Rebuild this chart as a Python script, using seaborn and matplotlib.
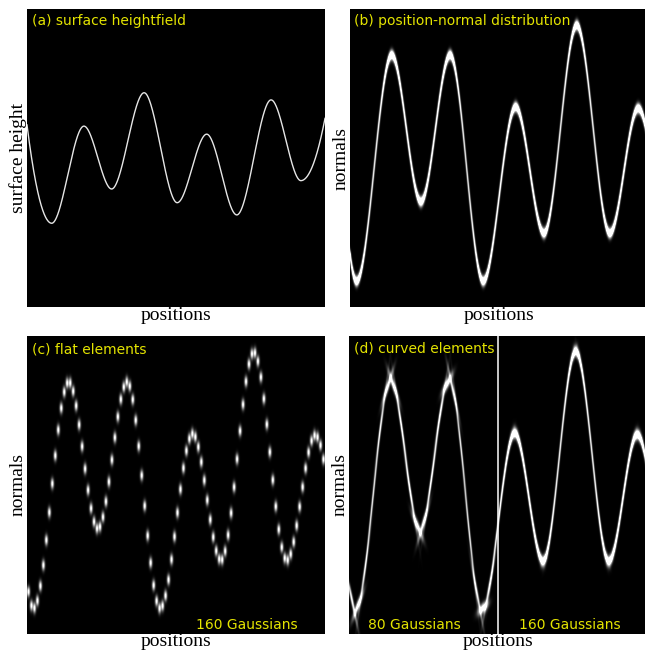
import numpy as np
import matplotlib
matplotlib.use("Agg")
import matplotlib.pyplot as plt
import seaborn as sns

# ---------------- data (fractions of each panel) ----------------
# extremes of the surface heightfield, panel (a)
height_pos = [0.0, 0.083, 0.191, 0.284, 0.393, 0.504, 0.603, 0.704, 0.819, 0.919, 1.0]
height_val = [0.611, 0.281, 0.607, 0.396, 0.719, 0.350, 0.580, 0.309, 0.695, 0.424, 0.633]

# extremes of the normal curve, panels (b)-(d)
normal_pos = [0.0, 0.022, 0.140, 0.238, 0.336, 0.447, 0.556, 0.651, 0.761, 0.872, 0.967, 1.0]
normal_val = [0.18, 0.086, 0.846, 0.353, 0.846, 0.086, 0.672, 0.247, 0.946, 0.247, 0.667, 0.555]

panel_titles = ["(a) surface heightfield", "(b) position-normal distribution",
                "(c) flat elements", "(d) curved elements"]
x_label = "positions"
y_labels = ["surface height", "normals", "normals", "normals"]
flat_label = "160 Gaussians"
curved_labels = ["80 Gaussians", "160 Gaussians"]
flat_elements_in_view = 100          # dots visible in panel (c)
curved_elements_in_view = [50, 100]  # elements visible per width in panel (d) halves
split_at = 0.5                       # divider of panel (d)

# ---------------- helpers ----------------
def smooth_through(px, py, t):
    px = np.asarray(px, float)
    py = np.asarray(py, float)
    d = np.zeros_like(py)
    d[0] = 2 * (py[1] - py[0]) / (px[1] - px[0])
    d[-1] = 2 * (py[-1] - py[-2]) / (px[-1] - px[-2])
    k = np.clip(np.searchsorted(px, t, side="right") - 1, 0, len(px) - 2)
    h = px[k + 1] - px[k]
    u = (t - px[k]) / h
    h00 = 2 * u**3 - 3 * u**2 + 1
    h10 = u**3 - 2 * u**2 + u
    h01 = -2 * u**3 + 3 * u**2
    h11 = u**3 - u**2
    return h00 * py[k] + h10 * h * d[k] + h01 * py[k + 1] + h11 * h * d[k + 1]


def gauss(z, s):
    return np.exp(-0.5 * (z / s) ** 2)


P = 298          # panel size in pixels
SX, SY = 4, 2    # supersampling
xf = (np.arange(P * SX) + 0.5) / SX
nf = P - (np.arange(P * SY) + 0.5) / SY


def ncurve(x_px):
    return smooth_through(normal_pos, normal_val, x_px / P) * P


def nslope(x_px, e=0.05):
    return (ncurve(x_px + e) - ncurve(x_px - e)) / (2 * e)


def hblur(img, sig_px):
    s = sig_px * SX
    r = int(np.ceil(4 * s))
    ker = gauss(np.arange(-r, r + 1), s)
    ker /= ker.sum()
    pad = np.pad(img, ((0, 0), (r, r)), mode="edge")
    out = np.zeros_like(img)
    for k in range(2 * r + 1):
        out += ker[k] * pad[:, k:k + img.shape[1]]
    return out


def finish(img, gain, gamma):
    img = img.reshape(P, SY, P, SX).mean(axis=(1, 3))
    return np.clip(gain * img, 0, 1) ** gamma


SIG_N = 3.2
SIG_X = 0.5
GAIN = 1.8
GAMMA = 0.9

# (b) continuous distribution
img_b = gauss(nf[:, None] - ncurve(xf)[None, :], SIG_N)
img_b = finish(hblur(img_b, SIG_X), GAIN, GAMMA)

# (c) flat elements
xc = (np.arange(flat_elements_in_view) + 0.5) * P / flat_elements_in_view
gn = gauss(nf[:, None] - ncurve(xc)[None, :], 3.0)
gx = gauss(xf[None, :] - xc[:, None], 0.85)
img_c = finish(hblur(gn @ gx, 0.3), 1.2, 0.7)


# (d) curved elements
def curved(nel):
    sp = P / nel
    se = 0.55 * sp
    xe = (np.arange(nel) + 0.5) * sp
    img = np.zeros((P * SY, P * SX))
    for x0 in xe:
        n0 = ncurve(np.array([x0]))[0]
        s0 = nslope(np.array([x0]))[0]
        cols = np.where(np.abs(xf - x0) < 5 * se)[0]
        xx = xf[cols]
        img[:, cols] += gauss(xx - x0, se)[None, :] * gauss(
            nf[:, None] - (n0 + s0 * (xx - x0))[None, :], SIG_N)
    norm = se * np.sqrt(2 * np.pi) / sp
    return finish(hblur(img, SIG_X) / norm, GAIN, GAMMA)


img_d_left = curved(curved_elements_in_view[0])
img_d_right = curved(curved_elements_in_view[1])
cut = int(round(split_at * P))
img_d = np.concatenate([img_d_left[:, :cut], img_d_right[:, cut:]], axis=1)

# ---------------- figure ----------------
W, H = 645, 652
fig = plt.figure(figsize=(W / 100, H / 100), dpi=100)
fig.patch.set_facecolor("white")


def rect(left, top, size=298):
    return [left / W, (H - top - size) / H, size / W, size / H]


axes = [fig.add_axes(rect(27, 9)), fig.add_axes(rect(350, 9)),
        fig.add_axes(rect(27, 335.5)), fig.add_axes(rect(349, 335.5))]

YEL = "#e4e400"
serif = "Liberation Serif"
TFS = 10

# (a) heightfield
ax = axes[0]
xs = np.linspace(0, 1, 1500)
sns.lineplot(x=xs, y=smooth_through(height_pos, height_val, xs), ax=ax,
             color="#e6e6e6", linewidth=1.0, estimator=None, sort=False)
ax.set_facecolor("black")
ax.set_xlim(0, 1)
ax.set_ylim(0, 1)
ax.set_xticks([])
ax.set_yticks([])
for s in ax.spines.values():
    s.set_visible(False)

for ax, img in zip(axes[1:], [img_b, img_c, img_d]):
    sns.heatmap(img, ax=ax, cmap="gray", vmin=0, vmax=1, cbar=False,
                xticklabels=False, yticklabels=False)
    ax.set_facecolor("black")

axes[3].axvline(cut, color="white", linewidth=1.1)

title_pos = [(0.016, 0.984), (0.0145, 0.984), (0.018, 0.977), (0.017, 0.979)]
for ax, t, (tx, ty), yl in zip(axes, panel_titles, title_pos, y_labels):
    ax.text(tx, ty, t, transform=ax.transAxes, ha="left", va="top",
            color=YEL, fontsize=TFS, family="DejaVu Sans")
    ax.set_xlabel(x_label, fontsize=14, family=serif, labelpad=0)
    ax.set_ylabel(yl, fontsize=14, family=serif, labelpad=0)

axes[2].text(0.909, 0.014, flat_label, transform=axes[2].transAxes, ha="right",
             va="baseline", color=YEL, fontsize=TFS, family="DejaVu Sans")
axes[3].text(0.063, 0.014, curved_labels[0], transform=axes[3].transAxes, ha="left",
             va="baseline", color=YEL, fontsize=TFS, family="DejaVu Sans")
axes[3].text(0.570, 0.014, curved_labels[1], transform=axes[3].transAxes, ha="left",
             va="baseline", color=YEL, fontsize=TFS, family="DejaVu Sans")

fig.savefig("out.png", dpi=100, facecolor="white")
